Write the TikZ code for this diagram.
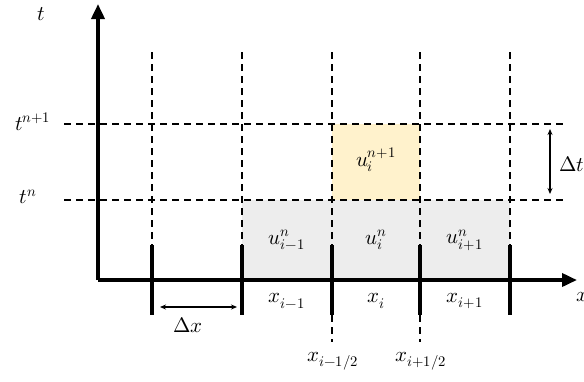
\documentclass[tikz,border=0pt]{standalone}
\usepackage{unicode-math}
\usetikzlibrary{arrows.meta}
\definecolor{cellgray}{HTML}{EDEDED}
\definecolor{cellyellow}{HTML}{FFF2CC}
\begin{document}
\begin{tikzpicture}[x=1bp,y=-1bp,
  gridline/.style={line width=1.4bp, dash pattern=on 7bp off 5bp},
  axisline/.style={line width=3.6bp, -{Triangle[length=15bp,width=13bp]}},
  tickline/.style={line width=3.6bp},
  dimarrow/.style={line width=1.2bp, {Stealth[length=6bp,width=5bp]}-{Stealth[length=6bp,width=5bp]}},
  lab/.style={inner sep=1bp, font=\fontsize{21}{25}\selectfont}]
\useasboundingbox (0,0) rectangle (584,381);
% cells
\fill[cellgray] (242,200) rectangle (510,280);
\fill[cellyellow] (332,124) rectangle (420,200);
% coordinates
\foreach \n/\x in {a/152,b/242,c/332,d/420,e/510}{
  \coordinate (top\n) at (\x,52);
  \coordinate (tu\n) at (\x,245);
  \coordinate (tl\n) at (\x,315);
}
\coordinate (bc) at (332,342);
\coordinate (bd) at (420,342);
\coordinate (hs1) at (64,124);
\coordinate (he1) at (567,124);
\coordinate (hs2) at (64,200);
\coordinate (he2) at (567,200);
% dashed grid
\foreach \n in {a,b,c,d,e}{ \draw[gridline] (top\n) -- (tu\n); }
\draw[gridline] (tlc) -- (bc);
\draw[gridline] (tld) -- (bd);
\draw[gridline] (hs1) -- (he1);
\draw[gridline] (hs2) -- (he2);
% ticks
\foreach \n in {a,b,c,d,e}{ \draw[tickline] (tu\n) -- (tl\n); }
% axes
\coordinate (O) at (98,280);
\coordinate (ty) at (98,4);
\coordinate (tx) at (577,280);
\draw[axisline] (O) -- (ty);
\draw[axisline] (O) -- (tx);
% dimension arrows
\coordinate (dx1) at (160,307);
\coordinate (dx2) at (237,307);
\draw[dimarrow] (dx1) -- (dx2);
\coordinate (dt1) at (550,129);
\coordinate (dt2) at (550,194);
\draw[dimarrow] (dt1) -- (dt2);
% labels
\node[lab] (lt) at (41,14) {$t$};
\node[lab] (ltn1) at (33,122) {$t^{n+1}$};
\node[lab] (ltn) at (28,197) {$t^{n}$};
\node[lab, anchor=west] (lx) at (575,297) {$x$};
\node[lab] (ldx) at (188,325) {$\Delta x$};
\node[lab] (ldt) at (572,164) {$\Delta t$};
\node[lab] (lxim) at (287,301) {$x_{i-1}$};
\node[lab] (lxi) at (376,301) {$x_{i}$};
\node[lab] (lxip) at (465,301) {$x_{i+1}$};
\node[lab] (lxmh) at (333,361) {$x_{i-1/2}$};
\node[lab] (lxph) at (421,361) {$x_{i+1/2}$};
\node[lab] (uim) at (287,240) {$u_{i-1}^{n}$};
\node[lab] (ui) at (376,240) {$u_{i}^{n}$};
\node[lab] (uip) at (465,240) {$u_{i+1}^{n}$};
\node[lab] (uin1) at (376,160) {$u_{i}^{n+1}$};
\end{tikzpicture}
\end{document}
